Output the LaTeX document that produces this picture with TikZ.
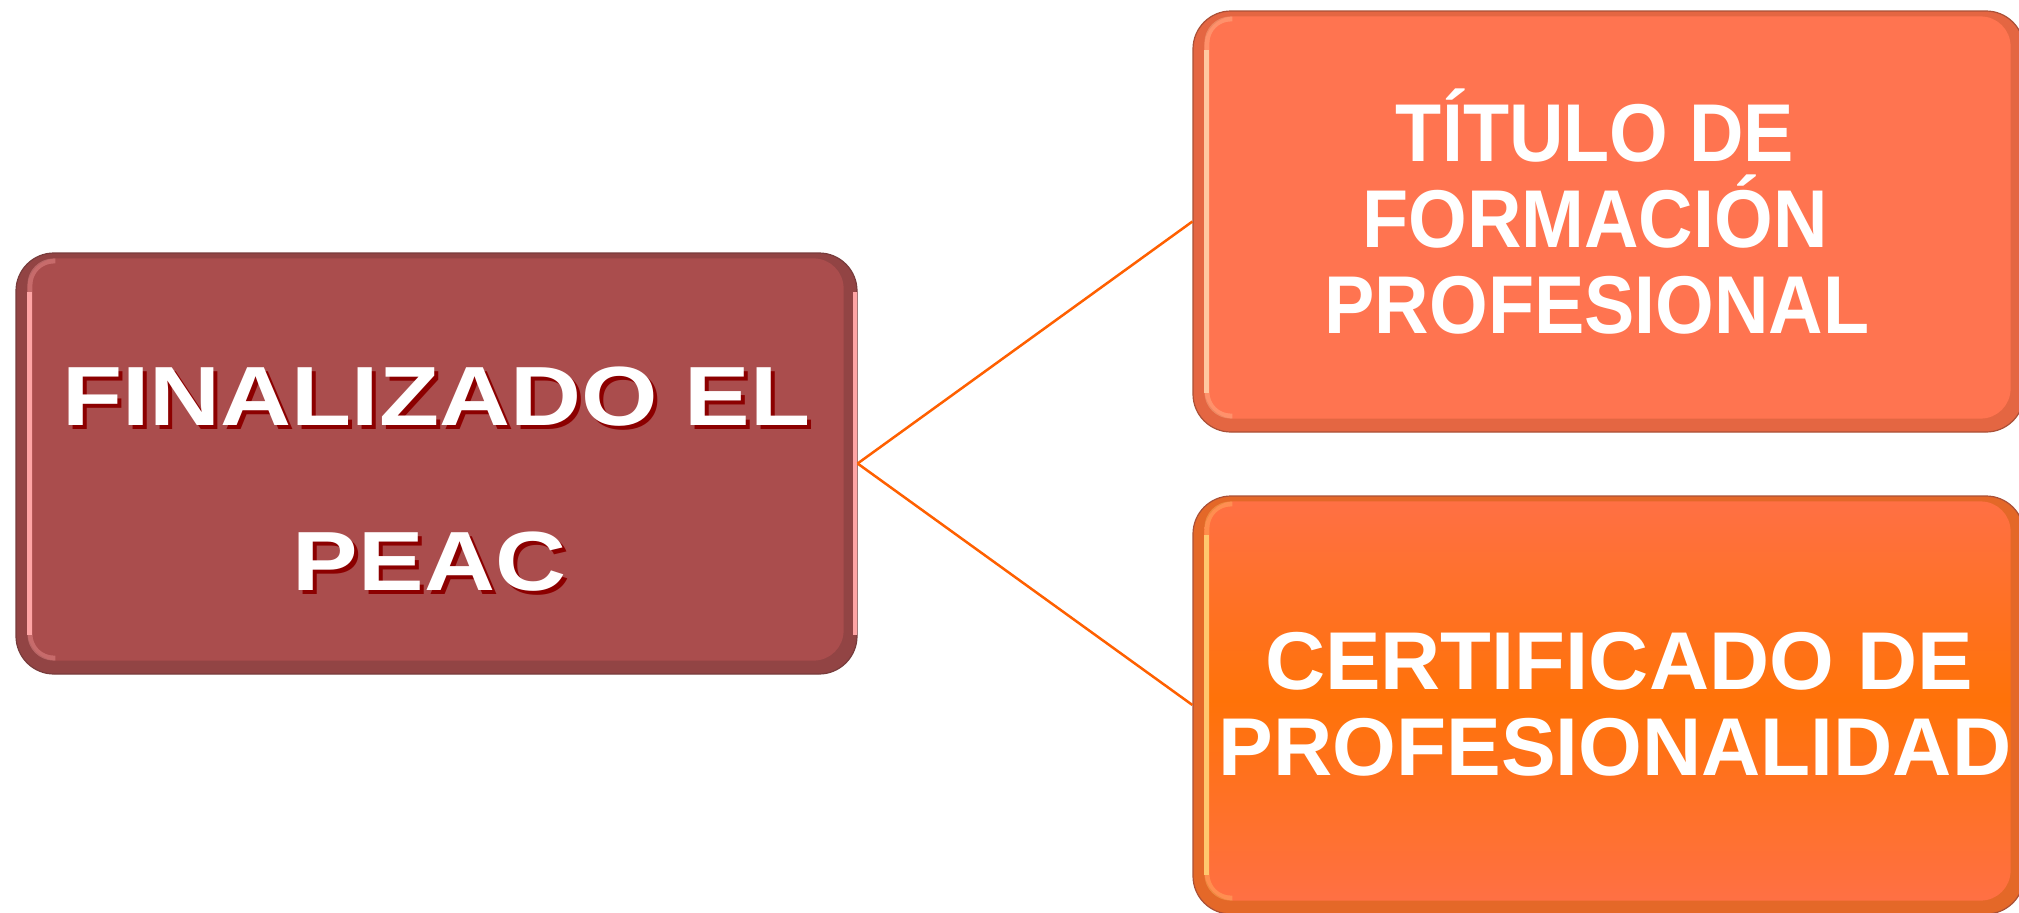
\documentclass[tikz,border=0pt]{standalone}
\usepackage{fontspec}
\setmainfont{Liberation Sans}
\usetikzlibrary{calc}
\definecolor{lbox}{RGB}{170,77,77}
\definecolor{lboxd}{RGB}{146,68,68}
\definecolor{lboxe}{RGB}{120,60,60}
\definecolor{lboxl}{RGB}{255,165,165}
\definecolor{tbox}{RGB}{255,116,80}
\definecolor{tboxd}{RGB}{228,102,66}
\definecolor{tboxe}{RGB}{170,80,55}
\definecolor{tboxl}{RGB}{255,200,160}
\definecolor{bboxtop}{RGB}{255,112,68}
\definecolor{bboxmid}{RGB}{255,114,8}
\definecolor{bboxd}{RGB}{228,104,40}
\definecolor{bboxl}{RGB}{255,200,110}
\definecolor{conn}{RGB}{255,96,0}
\definecolor{shad}{RGB}{140,0,0}
\tikzset{
  boxshape/.style={rectangle, rounded corners=38pt, inner sep=0pt, line width=1.2pt},
  bigtxt/.style={inner sep=0pt, anchor=base, font=\bfseries\fontsize{84}{84}\selectfont},
  rtxt/.style={inner sep=0pt, anchor=base, text=white, font=\bfseries\fontsize{82}{82}\selectfont},
  connline/.style={draw=conn, line width=2.5pt},
  hilite/.style={line width=5pt, rounded corners=24pt},
}
\newcommand{\bevel}[3]{% node, light colour, inner fill options
  \path[#3, rounded corners=30pt] ($(#1.north west)+(12,6)$) rectangle ($(#1.south east)+(-14,-14)$);
  \draw[#2, hilite, opacity=0.35] ($(#1.north west)+(40,8.5)$) -- ($(#1.north west)+(14.5,8.5)$) -- ($(#1.south west)+(14.5,-16.5)$) -- ($(#1.south west)+(40,-16.5)$);
  \draw[#2, line width=5pt] ($(#1.north west)+(14.5,40)$) -- ($(#1.south west)+(14.5,-40)$);
}
\begin{document}
\begin{tikzpicture}[x=1pt,y=-1pt]
\useasboundingbox (0,0) rectangle (2019,913);
\fill[white] (0,0) rectangle (2019,913);
% left box
\node[boxshape, fill=lboxd, draw=lboxe, minimum width=841pt, minimum height=421pt] (L) at (436.5,463.5) {};
\bevel{L}{lboxl}{fill=lbox}
\draw[lboxl, line width=4pt] ($(L.north east)+(-3,40)$) -- ($(L.south east)+(-3,-40)$);
% top right box
\node[boxshape, fill=tboxd, draw=tboxe, minimum width=831pt, minimum height=421pt] (T) at (1608.5,221.5) {};
\bevel{T}{tboxl}{fill=tbox}
% bottom right box
\node[boxshape, fill=bboxd, draw=tboxe, minimum width=831pt, minimum height=418pt] (B) at (1608.5,705) {};
\bevel{B}{bboxl}{top color=bboxtop, bottom color=bboxtop, middle color=bboxmid}
% connectors
\draw[connline] (L.east) -- (T.west);
\draw[connline] (L.east) -- (B.west);
% left text with shadow
\node[bigtxt, text=shad] (l1s) at (440.5,429) {\scalebox{1.17}[1]{FINALIZADO EL}};
\node[bigtxt, text=white] (l1) at (436.5,425) {\scalebox{1.17}[1]{FINALIZADO EL}};
\node[bigtxt, text=shad] (l2s) at (433.5,594) {\scalebox{1.17}[1]{PEAC}};
\node[bigtxt, text=white] (l2) at (429.5,590) {\scalebox{1.17}[1]{PEAC}};
% top right text
\node[rtxt] (t1) at (1595,161) {\scalebox{0.92}[1]{TÍTULO DE}};
\node[rtxt] (t2) at (1595,247) {\scalebox{0.92}[1]{FORMACIÓN}};
\node[rtxt] (t3) at (1597,333) {\scalebox{0.92}[1]{PROFESIONAL}};
% bottom right text
\node[rtxt] (b1) at (1619,689) {\scalebox{1.015}[1]{CERTIFICADO DE}};
\node[rtxt] (b2) at (1615,775) {PROFESIONALIDAD};
\end{tikzpicture}
\end{document}
